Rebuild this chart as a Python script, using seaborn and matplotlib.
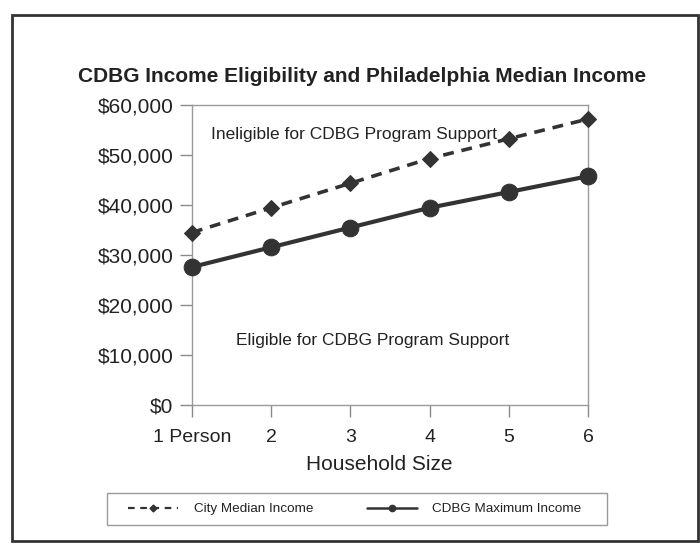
import matplotlib
matplotlib.use("Agg")
import matplotlib.pyplot as plt
import seaborn as sns
import pandas as pd
from matplotlib.lines import Line2D
from matplotlib.patches import Rectangle

household_size = [1, 2, 3, 4, 5, 6]
tick_labels = ["1 Person", "2", "3", "4", "5", "6"]
city_median_income = [34500, 39450, 44350, 49300, 53250, 57200]
cdbg_maximum_income = [27600, 31550, 35500, 39450, 42600, 45750]
y_ticks = [0, 10000, 20000, 30000, 40000, 50000, 60000]

df = pd.DataFrame({
    "size": household_size,
    "median": city_median_income,
    "cdbg": cdbg_maximum_income,
})

sns.set_theme(style="white")
plt.rcParams["font.family"] = ["Liberation Sans", "DejaVu Sans"]

fig = plt.figure(figsize=(7.0, 5.46), dpi=100)
ax = fig.add_axes([192/700, 1-405/546, (588-192)/700, (405-105)/546])

dark = "#333333"
sns.lineplot(data=df, x="size", y="median", ax=ax, color=dark, linestyle=(0, (3, 2.2)),
             linewidth=2.6, marker="D", markersize=8, markeredgecolor=dark, zorder=3,
             clip_on=False)
sns.lineplot(data=df, x="size", y="cdbg", ax=ax, color=dark, linestyle="-",
             linewidth=3.0, marker="o", markersize=12, markeredgecolor=dark, zorder=3,
             clip_on=False)

ax.set_xlim(1, 6)
ax.set_ylim(0, 60000)
ax.set_xticks(household_size)
ax.set_xticklabels(tick_labels)
ax.set_yticks(y_ticks)
ax.set_yticklabels([f"${v:,.0f}" for v in y_ticks])
for s in ax.spines.values():
    s.set_color("#9a9a9a")
    s.set_linewidth(1.0)
    s.set_visible(True)
ax.tick_params(axis="both", which="both", length=8.5, width=1.0, color="#8a8a8a",
               labelcolor="#222222", direction="out", bottom=True, left=True)
ax.tick_params(axis="y", pad=5, labelsize=15)
ax.tick_params(axis="x", pad=9, labelsize=14)
ax.set_xlabel("Household Size", fontsize=15, color="#222222")
ax.xaxis.set_label_coords((379.5-192)/396, -(465-405)/300, transform=ax.transAxes)
ax.xaxis.label.set_va("center")
ax.set_ylabel("")
ax.grid(False)

ax.text(1.24, 54000, "Ineligible for CDBG Program Support", fontsize=12.5,
        color="#222222", va="center", ha="left")
ax.text(1.55, 12800, "Eligible for CDBG Program Support", fontsize=12.5,
        color="#222222", va="center", ha="left")

fig.text(362/700, 1-76/546, "CDBG Income Eligibility and Philadelphia Median Income",
         fontsize=15, fontweight="bold", color="#222222", ha="center", va="center")

handles = [
    Line2D([], [], color=dark, linestyle=(0, (3, 2.5)), linewidth=1.6, marker="D", markersize=3.5),
    Line2D([], [], color=dark, linestyle="-", linewidth=1.8, marker="o", markersize=4.5),
]
leg = fig.legend(handles, ["City Median Income", "CDBG Maximum Income"], ncol=2,
                 loc="center", bbox_to_anchor=(355/700, 1-509/546), fontsize=9.7,
                 frameon=False, handlelength=3.7, columnspacing=4.0,
                 borderpad=0, borderaxespad=0, handletextpad=1.15)
for t in leg.get_texts():
    t.set_color("#222222")

fig.patches.append(Rectangle((107/700, 1-525/546), (607-107)/700, (525-493)/546,
                             transform=fig.transFigure, fill=False,
                             edgecolor="#9a9a9a", linewidth=1.0, zorder=0))
fig.patches.append(Rectangle((12/700, 1-541/546), (698-12)/700, (541-15)/546,
                             transform=fig.transFigure, fill=False,
                             edgecolor="#333333", linewidth=2.0, zorder=0))

fig.savefig("out.png", dpi=100, facecolor="white")
